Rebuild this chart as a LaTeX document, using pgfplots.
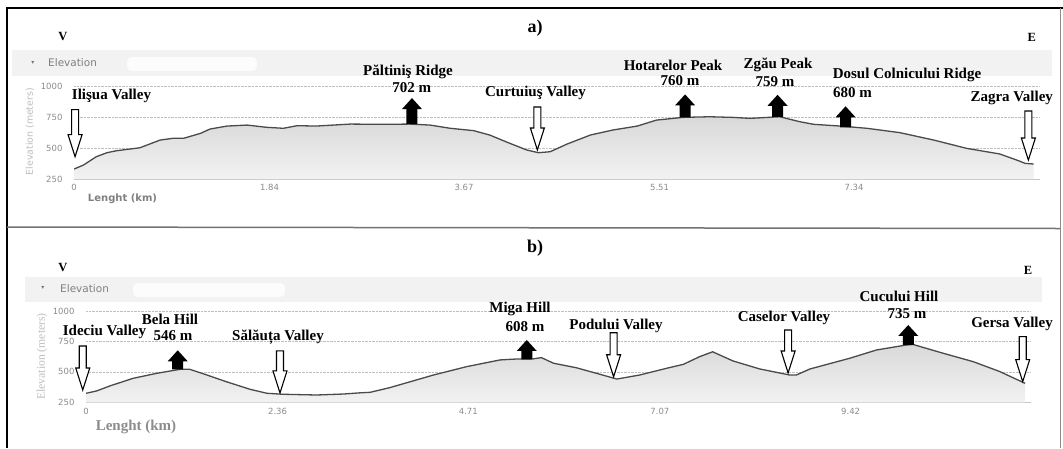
\documentclass[border=0pt]{standalone}
\usepackage{pgfplots}
\pgfplotsset{compat=1.18}
\usepackage{pgfplotstable}
\usepackage{fontspec}
\setmainfont{Liberation Serif}
\newfontfamily\uisans{DejaVu Sans}
\definecolor{profline}{HTML}{4A4A4A}

\pgfplotstableread{
km elev
0.00 330
0.09 363
0.21 430
0.31 462
0.40 478
0.62 502
0.81 564
0.93 578
1.03 578
1.19 618
1.28 653
1.44 677
1.63 685
1.81 667
1.97 659
2.10 680
2.28 677
2.60 693
2.91 691
3.16 693
3.35 685
3.54 659
3.76 640
3.91 605
4.10 538
4.26 484
4.37 462
4.48 470
4.64 532
4.86 605
5.07 645
5.30 677
5.48 725
5.73 747
5.98 752
6.20 747
6.36 739
6.64 752
6.83 712
6.96 691
7.21 677
7.46 659
7.77 624
8.09 564
8.40 497
8.71 452
8.87 403
8.95 376
9.03 371
}\profA

\pgfplotstableread{
km elev
0.00 324
0.13 343
0.30 386
0.58 447
0.87 488
1.16 521
1.28 521
1.49 474
1.73 419
2.02 357
2.23 324
2.43 316
2.84 310
3.17 318
3.38 328
3.50 332
3.74 370
4.28 474
4.69 543
5.10 598
5.31 606
5.47 603
5.61 617
5.76 571
6.04 534
6.29 488
6.54 441
6.82 474
7.15 529
7.36 562
7.56 625
7.72 665
7.97 590
8.30 524
8.67 474
8.75 474
8.92 524
9.41 612
9.74 680
10.11 721
10.19 725
10.56 653
10.93 584
11.26 502
11.42 452
11.57 406
}\profB

\newcommand{\valleyarrow}[3]{%
  \draw[black, line width=1.1pt, fill=white, line join=miter]
    (axis cs:#1,#2) -- ++(-7pt,22pt) -- ++(3.5pt,0pt) -- ++(0pt,{(#3-22)*1pt})
    -- ++(7pt,0pt) -- ++(0pt,{(22-#3)*1pt}) -- ++(3.5pt,0pt) -- cycle;}
\newcommand{\peakarrow}[3]{%
  \fill[black]
    (axis cs:#1,#2) ++(-5.5pt,0pt) -- ++(0pt,{(#3-11)*1pt}) -- ++(-4.5pt,0pt)
    -- ++(10pt,11pt) -- ++(10pt,-11pt) -- ++(-4.5pt,0pt) -- ++(0pt,{(11-#3)*1pt}) -- cycle;}

\pgfplotsset{elevprof/.style={
  scale only axis,
  axis lines*=left,
  y axis line style={draw=none},
  x axis line style={draw=black!22, line width=0.9pt},
  ymajorgrids,
  grid style={black!25, densely dotted, line width=0.6pt},
  ymin=250, ymax=1000,
  ytick={250,500,750,1000},
  yticklabels={250,500,750,1000},
  tick style={draw=none},
  ticklabel style={font=\uisans\fontsize{8.5}{10}\selectfont, text=black!45},
  yticklabel style={xshift=-8pt},
  xticklabel style={yshift=-2pt},
  clip mode=individual,
}}

\begin{document}
\begin{tikzpicture}
\path[use as bounding box, fill=white] (0pt,0pt) rectangle (1063pt,-448pt);

% Elevation bands
\fill[black!5] (12pt,-50pt) rectangle (1052pt,-76pt);
\fill[black!1, rounded corners=5pt] (127pt,-57pt) rectangle (257pt,-71pt);
\fill[black!5] (25pt,-277pt) rectangle (1042pt,-302pt);
\fill[black!1, rounded corners=5pt] (133pt,-283pt) rectangle (285pt,-297pt);

\node[font=\uisans\fontsize{6}{7}\selectfont, text=black!55, inner sep=0] at (33pt,-62.7pt) {▾};
\node[font=\uisans\fontsize{10.5}{12}\selectfont, text=black!50, inner sep=0, anchor=west] at (48pt,-63pt) {Elevation};
\node[font=\uisans\fontsize{6}{7}\selectfont, text=black!55, inner sep=0] at (43pt,-288pt) {▾};
\node[font=\uisans\fontsize{10.5}{12}\selectfont, text=black!50, inner sep=0, anchor=west] at (60pt,-289pt) {Elevation};

% ---------- panel a ----------
\begin{axis}[elevprof,
  at={(74pt,-179pt)}, anchor=south west,
  width=965pt, height=93pt,
  xmin=0, xmax=9.08,
  xtick={0,1.84,3.67,5.51,7.34},
  xticklabels={0,1.84,3.67,5.51,7.34},
]
\addplot[draw=none, top color=black!15, bottom color=black!5] table[x=km,y=elev] {\profA} \closedcycle;
\addplot[profline, line width=1.3pt] table[x=km,y=elev] {\profA};
\valleyarrow{0.01}{430}{47}
\valleyarrow{4.36}{484}{43}
\valleyarrow{8.98}{403}{49}
\peakarrow{3.18}{693}{26}
\peakarrow{5.75}{747}{23}
\peakarrow{6.62}{752}{22}
\peakarrow{7.26}{667}{21}
\end{axis}

% ---------- panel b ----------
\begin{axis}[elevprof,
  at={(86pt,-402.3pt)}, anchor=south west,
  width=944pt, height=91.3pt,
  xmin=0, xmax=11.63,
  xtick={0,2.36,4.71,7.07,9.42},
  xticklabels={0,2.36,4.71,7.07,9.42},
]
\addplot[draw=none, top color=black!15, bottom color=black!5] table[x=km,y=elev] {\profB} \closedcycle;
\addplot[profline, line width=1.3pt] table[x=km,y=elev] {\profB};
\valleyarrow{-0.04}{351}{44}
\valleyarrow{2.39}{327}{42}
\valleyarrow{6.50}{460}{44}
\valleyarrow{8.65}{491}{43}
\valleyarrow{11.54}{420}{45}
\peakarrow{1.13}{521}{19}
\peakarrow{5.43}{606}{19}
\peakarrow{10.13}{721}{20}
\end{axis}

% axis titles
\node[rotate=90, font=\uisans\fontsize{9.4}{11}\selectfont, text=black!25, inner sep=0] at (30pt,-131.7pt) {Elevation (meters)};
\node[font=\uisans\bfseries\fontsize{10}{12}\selectfont, text=black!50, inner sep=0] at (122.5pt,-199pt) {Lenght (km)};
\node[rotate=90, font=\fontsize{11.7}{13}\selectfont, text=black!25, inner sep=0] at (42pt,-356.5pt) {Elevation (meters)};
\node[font=\bfseries\fontsize{15}{17}\selectfont, text=black!45, inner sep=0] at (136pt,-426.7pt) {Lenght (km)};

% annotations
\tikzset{lbl/.style={font=\bfseries\fontsize{15}{17}\selectfont, inner sep=0, text=black}}
\tikzset{ve/.style={font=\bfseries\fontsize{12.5}{14}\selectfont, inner sep=0, text=black}}

\node[font=\bfseries\fontsize{18}{20}\selectfont, inner sep=0] at (535pt,-28pt) {a)};
\node[ve] at (63pt,-36pt) {V};
\node[ve] at (1031.7pt,-37pt) {E};
\node[lbl] at (111.5pt,-96pt) {Ilişua Valley};
\node[lbl] at (408pt,-71.7pt) {Păltiniş Ridge};
\node[lbl] at (411.7pt,-87.3pt) {702 m};
\node[lbl] at (535.5pt,-92.7pt) {Curtuiuş Valley};
\node[lbl] at (673pt,-65pt) {Hotarelor Peak};
\node[lbl] at (680pt,-80.7pt) {760 m};
\node[lbl] at (778pt,-65pt) {Zgău Peak};
\node[lbl] at (775pt,-81.7pt) {759 m};
\node[lbl] at (907pt,-75pt) {Dosul Colnicului Ridge};
\node[lbl, anchor=west] at (833pt,-92.7pt) {680 m};
\node[lbl] at (1011.7pt,-98.3pt) {Zagra Valley};

\node[font=\bfseries\fontsize{18}{20}\selectfont, inner sep=0] at (535pt,-248.3pt) {b)};
\node[ve] at (63pt,-267.7pt) {V};
\node[ve] at (1028pt,-270pt) {E};
\node[lbl] at (104.5pt,-331.7pt) {Ideciu Valley};
\node[lbl] at (170pt,-319.3pt) {Bela Hill};
\node[lbl] at (173pt,-336pt) {546 m};
\node[lbl] at (278pt,-336.7pt) {Sălăuța Valley};
\node[lbl] at (520pt,-309pt) {Miga Hill};
\node[lbl] at (525pt,-326.7pt) {608 m};
\node[lbl] at (616pt,-325.7pt) {Podului Valley};
\node[lbl] at (784pt,-317.7pt) {Caselor Valley};
\node[lbl] at (899pt,-296.7pt) {Cucului Hill};
\node[lbl] at (907pt,-313.3pt) {735 m};
\node[lbl] at (1012pt,-324pt) {Gersa Valley};

% frame
\draw[black, line width=2.5pt] (7pt,-448pt) -- (7pt,-8pt) -- (1063pt,-8pt);
\draw[black!45, line width=0.8pt] (1060.5pt,-8pt) -- (1060.5pt,-448pt);
\draw[black!55, line width=1.5pt] (7pt,-227pt) -- (1060pt,-228.5pt);
\end{tikzpicture}
\end{document}
